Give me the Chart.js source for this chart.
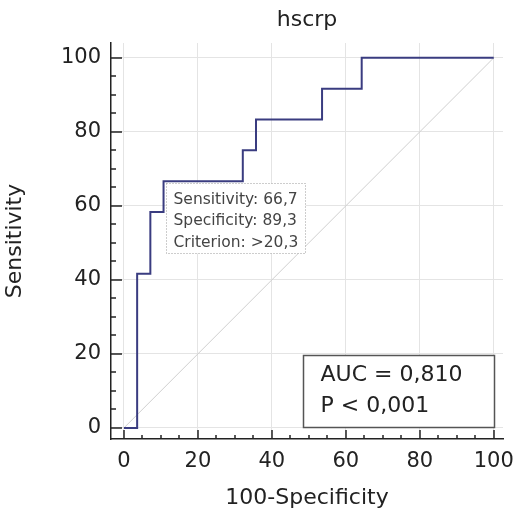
<!DOCTYPE html>
<html lang="en">
<head>
<meta charset="UTF-8">
<title>hscrp ROC curve</title>
<style>
  html, body { margin: 0; padding: 0; background: #fff; }
  #wrap { width: 513px; height: 511px; }
</style>
</head>
<body>
<div id="wrap"><canvas id="roc" width="513" height="511"></canvas></div>
<script src="https://cdn.jsdelivr.net/npm/chart.js"></script>
<script>
// ROC points (100-Specificity, Sensitivity)
const rocX = [0, 3.57, 7.14, 10.71, 32.14, 35.71, 53.57, 64.29, 100];
const rocY = [0, 41.67, 58.33, 66.67, 75, 83.33, 91.67, 100, 100];
const diagX = [0, 100];
const diagY = [0, 100];
const tickLabels = [0, 20, 40, 60, 80, 100];
const minorStep = 5;
const criterionIndex = 3;
const criterionLines = ['Sensitivity: 66,7', 'Specificity: 89,3', 'Criterion: >20,3'];
const aucLines = ['AUC = 0,810', 'P < 0,001'];
const chartTitle = 'hscrp';

const FONT = '"DejaVu Sans", "Liberation Sans", Arial, sans-serif';
const INK = '#222';

function toPoints(xs, ys) {
    return xs.map((v, i) => ({ x: v, y: ys[i] }));
}

function keepTicks(scale) {
    scale.ticks = scale.ticks.filter(t => t.value >= 0 && t.value <= 100 && t.value % minorStep === 0);
}

function majorOnly(ctx) {
    return tickLabels.includes(ctx.tick.value) ? '#e4e4e4' : 'rgba(0,0,0,0)';
}

// title, inner tick marks and the two text boxes
const rocExtras = {
    id: 'rocExtras',
    afterDatasetsDraw(chart) {
        const { ctx, scales: { x, y } } = chart;
        ctx.save();

        // criterion box, hung from the criterion point
        const cx = Math.round(x.getPixelForValue(rocX[criterionIndex])) + 2.5;
        const cy = Math.round(y.getPixelForValue(rocY[criterionIndex])) + 2.5;
        ctx.fillStyle = '#fff';
        ctx.fillRect(cx, cy, 139, 70);
        ctx.setLineDash([1, 2]);
        ctx.strokeStyle = '#9a9a9a';
        ctx.lineWidth = 1;
        ctx.strokeRect(cx, cy, 139, 70);
        ctx.setLineDash([]);
        ctx.font = '15.5px ' + FONT;
        ctx.fillStyle = '#444';
        ctx.textAlign = 'left';
        ctx.textBaseline = 'middle';
        criterionLines.forEach((s, i) => ctx.fillText(s, cx + 7, cy + 16 + i * 21.5));

        // AUC box in the bottom right corner
        const ax = Math.round(x.getPixelForValue(100)) + 0.5;
        const ay = Math.round(y.getPixelForValue(0)) - 0.5;
        ctx.fillStyle = '#fff';
        ctx.fillRect(ax - 191, ay - 72, 191, 72);
        ctx.strokeStyle = '#555';
        ctx.lineWidth = 1.5;
        ctx.strokeRect(ax - 191, ay - 72, 191, 72);
        ctx.font = '22px ' + FONT;
        ctx.fillStyle = INK;
        aucLines.forEach((s, i) => ctx.fillText(s, ax - 174, ay - 52 + i * 30.5));
        ctx.restore();
    },
    afterDraw(chart) {
        const { ctx, chartArea, scales: { x, y } } = chart;
        ctx.save();
        ctx.font = '22px ' + FONT;
        ctx.fillStyle = INK;
        ctx.textAlign = 'center';
        ctx.textBaseline = 'middle';
        ctx.fillText(chartTitle, (chartArea.left + chartArea.right) / 2, 20);

        ctx.strokeStyle = INK;
        ctx.lineWidth = 1.5;
        x.ticks.forEach(t => {
            const px = Math.round(x.getPixelForValue(t.value));
            const len = tickLabels.includes(t.value) ? 9 : 4;
            ctx.beginPath();
            ctx.moveTo(px, chartArea.bottom);
            ctx.lineTo(px, chartArea.bottom - len);
            ctx.stroke();
        });
        y.ticks.forEach(t => {
            const py = Math.round(y.getPixelForValue(t.value));
            const len = tickLabels.includes(t.value) ? 11 : 5;
            ctx.beginPath();
            ctx.moveTo(chartArea.left, py);
            ctx.lineTo(chartArea.left + len, py);
            ctx.stroke();
        });
        ctx.restore();
    }
};

new Chart(document.getElementById('roc'), {
    type: 'line',
    data: {
        datasets: [
            {
                data: toPoints(rocX, rocY),
                borderColor: '#3a3c80',
                borderWidth: 2,
                pointRadius: 0,
                stepped: 'before',
                order: 0
            },
            {
                data: toPoints(diagX, diagY),
                borderColor: '#cfcfcf',
                borderWidth: 1,
                pointRadius: 0,
                order: 1
            }
        ]
    },
    options: {
        responsive: false,
        animation: false,
        layout: { padding: { top: 43, right: 10, left: 0, bottom: 0 } },
        plugins: {
            legend: { display: false },
            tooltip: { enabled: false }
        },
        scales: {
            x: {
                type: 'linear',
                min: -3.5,
                max: 102.5,
                afterBuildTicks: keepTicks,
                afterFit(scale) {
                    scale.height = 72;
                    // let the "100" label run to the canvas edge like the original
                    scale.paddingLeft = 0;
                    scale.paddingRight = 0;
                },
                ticks: {
                    stepSize: minorStep,
                    includeBounds: false,
                    autoSkip: false,
                    maxRotation: 0,
                    padding: 10,
                    color: INK,
                    font: { family: FONT, size: 21 },
                    callback: v => tickLabels.includes(v) ? String(v) : ''
                },
                grid: { drawTicks: false, color: majorOnly, lineWidth: 1 },
                border: { display: true, color: INK, width: 1.5 },
                title: {
                    display: true,
                    text: '100-Specificity',
                    color: INK,
                    font: { family: FONT, size: 22 },
                    padding: { top: 0, bottom: 0 }
                }
            },
            y: {
                type: 'linear',
                min: -3,
                max: 104,
                afterBuildTicks: keepTicks,
                afterFit(scale) {
                    scale.width = 111;
                    scale.paddingTop = 0;
                    scale.paddingBottom = 0;
                },
                ticks: {
                    stepSize: minorStep,
                    includeBounds: false,
                    autoSkip: false,
                    padding: 10,
                    color: INK,
                    font: { family: FONT, size: 21 },
                    callback: v => tickLabels.includes(v) ? String(v) : ''
                },
                grid: { drawTicks: false, color: majorOnly, lineWidth: 1 },
                border: { display: true, color: INK, width: 1.5 },
                title: {
                    display: true,
                    text: 'Sensitivity',
                    color: INK,
                    font: { family: FONT, size: 22 },
                    padding: { top: 2, bottom: 0 }
                }
            }
        }
    },
    plugins: [rocExtras]
});
</script>
</body>
</html>
